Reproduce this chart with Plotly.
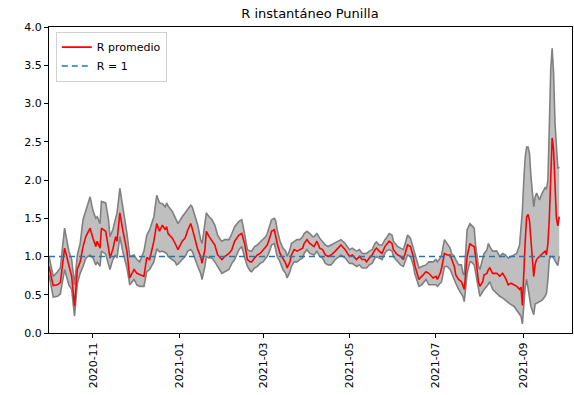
import plotly.graph_objects as go

dates = [
    "2020-10-01", "2020-10-04", "2020-10-07", "2020-10-09", "2020-10-12", "2020-10-15", "2020-10-17", "2020-10-19",
    "2020-10-21", "2020-10-23", "2020-10-25", "2020-10-27", "2020-10-30", "2020-11-01", "2020-11-03", "2020-11-04",
    "2020-11-06", "2020-11-07", "2020-11-10", "2020-11-12", "2020-11-13", "2020-11-15", "2020-11-17", "2020-11-18",
    "2020-11-20", "2020-11-22", "2020-11-24", "2020-11-25", "2020-11-27", "2020-11-30", "2020-12-02", "2020-12-04",
    "2020-12-07", "2020-12-09", "2020-12-11", "2020-12-14", "2020-12-16", "2020-12-18", "2020-12-20", "2020-12-22",
    "2020-12-23", "2020-12-24", "2020-12-27", "2020-12-29", "2020-12-30", "2020-12-31", "2021-01-03", "2021-01-05",
    "2021-01-07", "2021-01-09", "2021-01-10", "2021-01-12", "2021-01-14", "2021-01-16", "2021-01-17", "2021-01-19",
    "2021-01-20", "2021-01-22", "2021-01-24", "2021-01-26", "2021-01-28", "2021-01-30", "2021-01-31", "2021-02-02",
    "2021-02-05", "2021-02-07", "2021-02-09", "2021-02-12", "2021-02-14", "2021-02-16", "2021-02-18", "2021-02-20",
    "2021-02-21", "2021-02-23", "2021-02-25", "2021-02-27", "2021-03-01", "2021-03-03", "2021-03-04", "2021-03-06",
    "2021-03-07", "2021-03-09", "2021-03-10", "2021-03-11", "2021-03-13", "2021-03-15", "2021-03-17", "2021-03-18",
    "2021-03-20", "2021-03-21", "2021-03-23", "2021-03-25", "2021-03-27", "2021-03-29", "2021-03-30", "2021-04-01",
    "2021-04-03", "2021-04-05", "2021-04-06", "2021-04-08", "2021-04-10", "2021-04-12", "2021-04-14", "2021-04-16",
    "2021-04-18", "2021-04-21", "2021-04-25", "2021-04-28", "2021-05-01", "2021-05-03", "2021-05-05", "2021-05-06",
    "2021-05-08", "2021-05-10", "2021-05-12", "2021-05-13", "2021-05-15", "2021-05-17", "2021-05-19", "2021-05-20",
    "2021-05-22", "2021-05-24", "2021-05-26", "2021-05-27", "2021-05-29", "2021-05-31", "2021-06-01", "2021-06-03",
    "2021-06-04", "2021-06-06", "2021-06-08", "2021-06-09", "2021-06-11", "2021-06-13", "2021-06-14", "2021-06-15",
    "2021-06-16", "2021-06-18", "2021-06-19", "2021-06-21", "2021-06-24", "2021-06-26", "2021-06-29", "2021-07-01",
    "2021-07-02", "2021-07-04", "2021-07-05", "2021-07-07", "2021-07-09", "2021-07-11", "2021-07-12", "2021-07-14",
    "2021-07-15", "2021-07-17", "2021-07-19", "2021-07-20", "2021-07-21", "2021-07-23", "2021-07-25", "2021-07-26",
    "2021-07-28", "2021-07-29", "2021-07-30", "2021-07-31", "2021-08-01", "2021-08-03", "2021-08-04", "2021-08-06",
    "2021-08-07", "2021-08-08", "2021-08-10", "2021-08-13", "2021-08-15", "2021-08-17", "2021-08-19", "2021-08-21",
    "2021-08-23", "2021-08-25", "2021-08-27", "2021-08-29", "2021-08-30", "2021-08-31", "2021-09-01", "2021-09-02",
    "2021-09-03", "2021-09-04", "2021-09-05", "2021-09-06", "2021-09-08", "2021-09-09", "2021-09-10", "2021-09-12",
    "2021-09-14", "2021-09-16", "2021-09-17", "2021-09-18", "2021-09-19", "2021-09-20", "2021-09-21", "2021-09-22",
    "2021-09-23", "2021-09-24", "2021-09-25", "2021-09-26",
]

r_mean = [
    0.87, 0.62, 0.63, 0.66, 1.11, 0.87, 0.74, 0.35,
    0.83, 0.93, 1.13, 1.26, 1.37, 1.24, 1.13, 1.20,
    1.11, 1.37, 1.33, 1.11, 0.98, 1.09, 1.26, 1.20,
    1.57, 1.35, 1.13, 1.07, 0.72, 0.83, 0.78, 0.76,
    0.74, 0.99, 0.96, 1.20, 1.43, 1.33, 1.41, 1.35,
    1.39, 1.30, 1.24, 1.17, 1.13, 1.09, 1.20, 1.24,
    1.35, 1.43, 1.37, 1.22, 1.09, 1.00, 0.91, 1.09,
    1.33, 1.26, 1.20, 1.15, 1.02, 0.98, 0.96, 1.00,
    1.04, 1.09, 1.20, 1.28, 1.30, 1.17, 0.96, 0.93,
    0.93, 0.98, 1.02, 1.04, 1.09, 1.13, 1.15, 1.26,
    1.33, 1.35, 1.26, 1.17, 1.04, 0.98, 0.91, 0.85,
    0.93, 1.02, 1.09, 1.07, 1.09, 1.11, 1.17, 1.22,
    1.17, 1.15, 1.13, 1.20, 1.11, 1.09, 1.02, 1.00,
    1.02, 1.07, 1.15, 1.09, 1.00, 1.02, 0.98, 0.96,
    1.00, 0.96, 0.96, 0.93, 0.98, 1.02, 1.09, 1.11,
    1.07, 1.04, 1.13, 1.15, 1.20, 1.17, 1.09, 1.04,
    1.02, 1.00, 0.96, 1.02, 1.15, 1.13, 1.07, 1.00,
    0.89, 0.74, 0.70, 0.74, 0.80, 0.78, 0.72, 0.74,
    0.70, 0.78, 0.85, 1.04, 1.02, 1.02, 0.96, 0.87,
    0.76, 0.70, 0.67, 0.61, 0.57, 1.00, 1.17, 1.15,
    1.13, 1.00, 0.83, 0.67, 0.61, 0.67, 0.76, 0.78,
    0.83, 0.85, 0.78, 0.78, 0.74, 0.78, 0.72, 0.63,
    0.65, 0.63, 0.61, 0.57, 0.60, 0.36, 0.85, 1.20,
    1.52, 1.55, 1.47, 1.20, 0.74, 0.90, 0.96, 1.00,
    1.04, 1.07, 1.02, 1.17, 1.50, 2.10, 2.55, 2.40,
    1.95, 1.50, 1.40, 1.52,
]

r_upper = [
    1.00, 0.74, 0.80, 0.85, 1.37, 1.07, 0.96, 0.63,
    1.02, 1.17, 1.48, 1.60, 1.78, 1.60, 1.50, 1.52,
    1.43, 1.72, 1.70, 1.48, 1.26, 1.35, 1.52, 1.57,
    1.89, 1.65, 1.43, 1.30, 1.00, 1.02, 0.96, 0.93,
    1.07, 1.28, 1.35, 1.52, 1.80, 1.70, 1.69, 1.65,
    1.70, 1.66, 1.59, 1.52, 1.48, 1.43, 1.52, 1.57,
    1.61, 1.67, 1.65, 1.52, 1.41, 1.22, 1.17, 1.43,
    1.57, 1.52, 1.48, 1.41, 1.28, 1.22, 1.20, 1.22,
    1.22, 1.30, 1.39, 1.46, 1.48, 1.30, 1.09, 1.07,
    1.07, 1.13, 1.15, 1.19, 1.22, 1.26, 1.30, 1.41,
    1.48, 1.50, 1.46, 1.35, 1.20, 1.11, 1.07, 1.00,
    1.09, 1.17, 1.20, 1.22, 1.22, 1.26, 1.30, 1.33,
    1.30, 1.26, 1.26, 1.30, 1.24, 1.20, 1.15, 1.13,
    1.15, 1.17, 1.22, 1.17, 1.09, 1.11, 1.09, 1.07,
    1.09, 1.04, 1.04, 1.04, 1.07, 1.09, 1.17, 1.19,
    1.15, 1.15, 1.22, 1.24, 1.30, 1.28, 1.20, 1.15,
    1.13, 1.11, 1.09, 1.15, 1.28, 1.24, 1.17, 1.13,
    1.04, 0.91, 0.85, 0.87, 0.89, 0.93, 0.93, 0.96,
    0.93, 0.98, 1.02, 1.22, 1.17, 1.11, 1.04, 1.00,
    0.96, 0.89, 0.89, 0.78, 0.76, 1.35, 1.43, 1.41,
    1.37, 1.15, 1.00, 0.87, 0.83, 0.96, 1.04, 1.09,
    1.17, 1.13, 1.07, 1.07, 1.00, 1.04, 1.02, 0.98,
    1.00, 1.02, 1.04, 1.15, 1.35, 1.60, 2.00, 2.30,
    2.43, 2.43, 2.35, 2.05, 1.65, 1.78, 1.83, 1.74,
    1.83, 1.90, 1.88, 2.00, 2.70, 3.45, 3.72, 3.40,
    2.75, 2.35, 2.15, 2.17,
]

r_lower = [
    0.76, 0.47, 0.48, 0.51, 0.83, 0.63, 0.57, 0.22,
    0.65, 0.78, 0.87, 0.98, 1.02, 0.98, 0.89, 0.93,
    0.87, 1.07, 1.03, 0.91, 0.83, 0.96, 1.02, 0.98,
    1.26, 1.07, 0.91, 0.85, 0.63, 0.70, 0.63, 0.61,
    0.61, 0.80, 0.83, 0.93, 1.10, 1.06, 1.07, 1.05,
    1.04, 1.00, 0.96, 0.93, 0.89, 0.90, 0.96, 1.00,
    1.07, 1.09, 1.07, 0.96, 0.87, 0.78, 0.70, 0.87,
    1.00, 0.98, 0.98, 0.93, 0.87, 0.80, 0.78, 0.80,
    0.83, 0.91, 0.96, 1.09, 1.13, 0.99, 0.87, 0.81,
    0.80, 0.85, 0.87, 0.91, 0.93, 0.98, 1.00, 1.09,
    1.15, 1.17, 1.10, 1.00, 0.93, 0.83, 0.78, 0.72,
    0.80, 0.87, 0.93, 0.93, 0.96, 0.98, 1.04, 1.09,
    1.04, 1.02, 1.02, 1.07, 1.00, 0.98, 0.91, 0.89,
    0.89, 0.96, 1.02, 0.98, 0.91, 0.91, 0.89, 0.87,
    0.89, 0.85, 0.85, 0.85, 0.89, 0.91, 0.98, 1.00,
    0.98, 0.96, 1.04, 1.07, 1.09, 1.07, 1.00, 0.96,
    0.93, 0.89, 0.87, 0.93, 1.02, 1.00, 0.93, 0.89,
    0.78, 0.65, 0.61, 0.63, 0.70, 0.63, 0.63, 0.63,
    0.61, 0.65, 0.67, 0.87, 0.87, 0.83, 0.78, 0.70,
    0.65, 0.57, 0.52, 0.48, 0.41, 0.78, 0.93, 0.93,
    0.89, 0.78, 0.67, 0.54, 0.48, 0.54, 0.57, 0.61,
    0.65, 0.67, 0.57, 0.52, 0.48, 0.46, 0.43, 0.39,
    0.37, 0.35, 0.30, 0.26, 0.22, 0.12, 0.35, 0.60,
    0.70, 0.60, 0.45, 0.35, 0.24, 0.38, 0.39, 0.41,
    0.43, 0.48, 0.52, 0.70, 0.96, 1.00, 1.00, 0.98,
    0.95, 0.92, 0.88, 1.00,
]

ref_dates = ["2020-10-01", "2021-09-26"]
ref_values = [1, 1]

tick_vals = ["2020-11-01", "2021-01-01", "2021-03-01", "2021-05-01", "2021-07-01", "2021-09-01"]
tick_text = ["2020-11", "2021-01", "2021-03", "2021-05", "2021-07", "2021-09"]
y_ticks = [0.0, 0.5, 1.0, 1.5, 2.0, 2.5, 3.0, 3.5, 4.0]

FONT = "DejaVu Sans"

fig = go.Figure()
fig.add_trace(go.Scatter(x=dates, y=r_lower, mode="lines",
                         line=dict(color="#808080", width=1.6),
                         showlegend=False, hoverinfo="skip"))
fig.add_trace(go.Scatter(x=dates, y=r_upper, mode="lines",
                         line=dict(color="#808080", width=1.6),
                         fill="tonexty", fillcolor="#bfbfbf",
                         showlegend=False, hoverinfo="skip"))
fig.add_trace(go.Scatter(x=dates, y=r_mean, mode="lines",
                         line=dict(color="#ff0000", width=1.6),
                         name="R promedio"))
fig.add_trace(go.Scatter(x=ref_dates, y=ref_values, mode="lines",
                         line=dict(color="#1f77b4", width=1.5, dash="6px,4px"),
                         name="R = 1"))

axis_common = dict(showline=True, linecolor="black", linewidth=1, mirror=True,
                   ticks="outside", ticklen=4, tickcolor="black", showgrid=False,
                   zeroline=False, automargin=False,
                   tickfont=dict(family=FONT, size=11, color="black"))

fig.update_layout(
    width=574, height=395,
    margin=dict(l=49, r=2, t=27, b=62),
    paper_bgcolor="white", plot_bgcolor="white",
    font=dict(family=FONT, size=11, color="black"),
    title=dict(text="R instantáneo Punilla", x=0.54, xanchor="center",
               y=0.967, yanchor="middle", font=dict(family=FONT, size=13, color="black")),
    xaxis=dict(range=["2020-10-01", "2021-10-05"], tickvals=tick_vals, ticktext=tick_text,
               tickangle=-90, **axis_common),
    yaxis=dict(range=[0, 4], tickvals=y_ticks, tickformat=".1f", **axis_common),
    legend=dict(x=0.013, y=0.985, xanchor="left", yanchor="top", traceorder="normal",
                bgcolor="rgba(255,255,255,0.8)", bordercolor="#d0d0d0", borderwidth=1,
                font=dict(family=FONT, size=11, color="black"), itemwidth=30,
                tracegroupgap=0),
    showlegend=True,
)

fig.write_html("out.html", config={"displayModeBar": False},
               post_script="document.body.style.margin='0';document.body.style.padding='0';")
